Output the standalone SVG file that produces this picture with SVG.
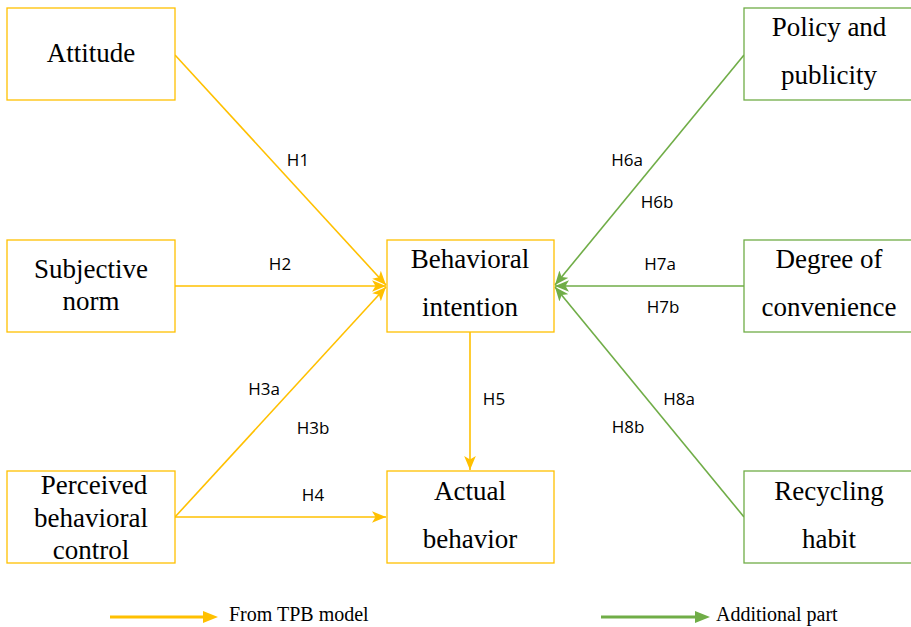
<svg xmlns="http://www.w3.org/2000/svg" width="911" height="627" viewBox="0 0 911 627">
<style>
.by{fill:#fff;stroke:#FFC000;stroke-width:1.3}
.bg{fill:#fff;stroke:#70AD47;stroke-width:1.3}
.nt{font-size:27px;fill:#000;text-anchor:middle}
.lb{font-size:17px;fill:#000;text-anchor:middle}
.lg{font-size:20px;fill:#000}
.cy{stroke:#FFC000;stroke-width:1.6;fill:none}
.cg{stroke:#70AD47;stroke-width:1.6;fill:none}
</style>
<defs>
<marker id="ay" viewBox="0 0 12 10" refX="12" refY="5" markerUnits="userSpaceOnUse" markerWidth="14" markerHeight="12" orient="auto">
<path d="M0,0 L12,5 L0,10 L3,5 Z" fill="#FFC000"/>
</marker>
<marker id="ag" viewBox="0 0 12 10" refX="12" refY="5" markerUnits="userSpaceOnUse" markerWidth="14" markerHeight="12" orient="auto">
<path d="M0,0 L12,5 L0,10 L3,5 Z" fill="#70AD47"/>
</marker>
</defs>
<rect width="911" height="627" fill="#fff"/>
<g id="connectors">
<line class="cy" x1="175" y1="55" x2="386" y2="285" marker-end="url(#ay)"/>
<line class="cy" x1="175" y1="286" x2="386" y2="286" marker-end="url(#ay)"/>
<line class="cy" x1="175" y1="517" x2="386" y2="287" marker-end="url(#ay)"/>
<line class="cy" x1="175" y1="517" x2="386" y2="517" marker-end="url(#ay)"/>
<line class="cy" x1="470" y1="332" x2="470" y2="470" marker-end="url(#ay)"/>
<line class="cg" x1="744" y1="55" x2="555" y2="285" marker-end="url(#ag)"/>
<line class="cg" x1="744" y1="286" x2="555" y2="286" marker-end="url(#ag)"/>
<line class="cg" x1="744" y1="517" x2="555" y2="287" marker-end="url(#ag)"/>
<g font-family="'Open Sans', 'Liberation Sans', sans-serif">
<text class="lb" x="298" y="166">H1</text>
<text class="lb" x="280" y="270">H2</text>
<text class="lb" x="264" y="395">H3a</text>
<text class="lb" x="313" y="434">H3b</text>
<text class="lb" x="313" y="501">H4</text>
<text class="lb" x="494" y="405">H5</text>
<text class="lb" x="627" y="166">H6a</text>
<text class="lb" x="657" y="208">H6b</text>
<text class="lb" x="660" y="270">H7a</text>
<text class="lb" x="663" y="313">H7b</text>
<text class="lb" x="679" y="405">H8a</text>
<text class="lb" x="628" y="433">H8b</text>
</g>
</g>
<g font-family="'Liberation Serif', 'Times New Roman', serif">
<g id="attitude"><rect class="by" x="7" y="8" width="168" height="92"/><text class="nt" x="91" y="62">Attitude</text></g>
<g id="subjective-norm"><rect class="by" x="7" y="240" width="168" height="92"/><text class="nt" x="91" y="278">Subjective</text><text class="nt" x="91" y="310">norm</text></g>
<g id="perceived-behavioral-control"><rect class="by" x="7" y="471" width="168" height="92"/><text class="nt" x="94" y="494">Perceived</text><text class="nt" x="91" y="527">behavioral</text><text class="nt" x="91" y="559">control</text></g>
<g id="behavioral-intention"><rect class="by" x="387" y="240" width="167" height="92"/><text class="nt" x="470" y="268">Behavioral</text><text class="nt" x="470" y="316">intention</text></g>
<g id="actual-behavior"><rect class="by" x="387" y="471" width="167" height="92"/><text class="nt" x="470" y="500">Actual</text><text class="nt" x="470" y="548">behavior</text></g>
<g id="policy-publicity"><rect class="bg" x="744" y="8" width="170" height="92"/><text class="nt" x="829" y="36">Policy and</text><text class="nt" x="829" y="84">publicity</text></g>
<g id="degree-convenience"><rect class="bg" x="744" y="240" width="170" height="92"/><text class="nt" x="829" y="268">Degree of</text><text class="nt" x="829" y="316">convenience</text></g>
<g id="recycling-habit"><rect class="bg" x="744" y="471" width="170" height="92"/><text class="nt" x="829" y="500">Recycling</text><text class="nt" x="829" y="548">habit</text></g>
<g id="legend">
<line x1="110" y1="617" x2="205" y2="617" stroke="#FFC000" stroke-width="3"/>
<path d="M203,611 L218,617 L203,623 Z" fill="#FFC000"/>
<text class="lg" x="229" y="621">From TPB model</text>
<line x1="601" y1="617" x2="697" y2="617" stroke="#70AD47" stroke-width="3"/>
<path d="M695,611 L710,617 L695,623 Z" fill="#70AD47"/>
<text class="lg" x="716" y="621">Additional part</text>
</g>
</g>
</svg>
